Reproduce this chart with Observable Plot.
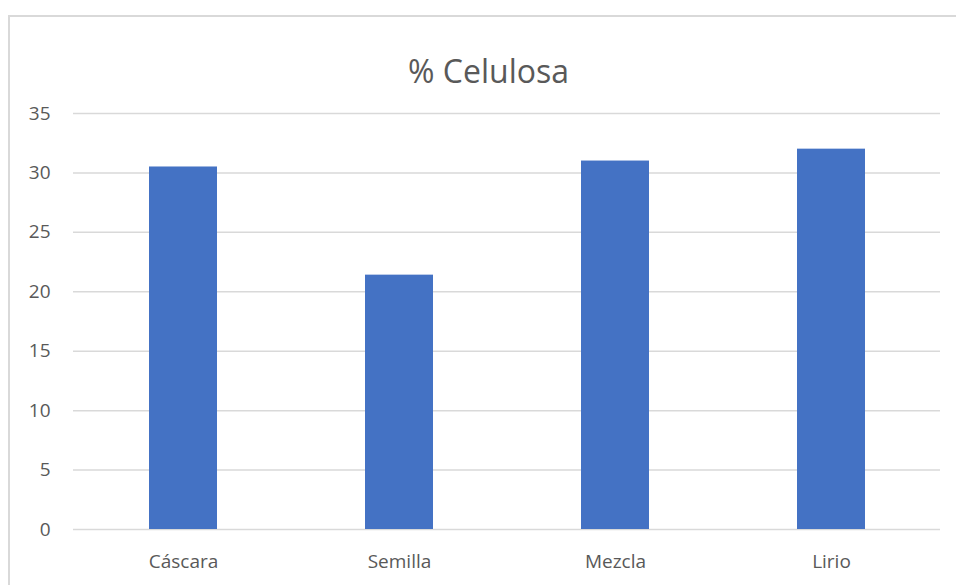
<!DOCTYPE html>
<html>
<head>
<meta charset="utf-8">
<script src="https://cdn.jsdelivr.net/npm/d3@7"></script>
<script src="https://cdn.jsdelivr.net/npm/@observablehq/plot@0.6"></script>
<style>
  html, body { margin: 0; padding: 0; background: #fff; }
  #wrap { position: relative; width: 956px; height: 585px; overflow: hidden; }
  #frame {
    position: absolute; left: 8px; top: 15px; width: 1000px; height: 600px;
    border-top: 2px solid #d9d9d9; border-left: 2px solid #d9d9d9; box-sizing: border-box;
  }
  #wrap svg { position: absolute; left: 0; top: 0; }
</style>
</head>
<body>
<div id="wrap"><div id="frame"></div></div>
<script>
// % cellulose content per sample
const categories = ["Cáscara", "Semilla", "Mezcla", "Lirio"];
const values = [30.5, 21.4, 31.0, 32.0];
const yTicks = [0, 5, 10, 15, 20, 25, 30, 35];
const title = "% Celulosa";

const data = categories.map((c, i) => ({category: c, value: values[i]}));

const font = "'Open Sans', 'DejaVu Sans', sans-serif";
const textColor = "#595959";

const chart = Plot.plot({
  width: 956,
  height: 585,
  marginLeft: 73,
  marginRight: 16,
  marginTop: 113,
  marginBottom: 56,
  style: {fontFamily: font, fontSize: "19px", color: textColor, background: "transparent", overflow: "visible"},
  x: {domain: categories, paddingInner: 0.686, paddingOuter: 0.343, label: null},
  y: {domain: [0, 35], label: null},
  marks: [
    Plot.gridY(yTicks, {stroke: "#d9d9d9", strokeOpacity: 1, strokeWidth: 1.5}),
    Plot.barY(data, {x: "category", y: "value", fill: "#4472c4"}),
    Plot.axisX({tickSize: 0, tickPadding: 25, fontSize: 19, fill: textColor, label: null}),
    Plot.axisY({ticks: yTicks, tickSize: 0, tickPadding: 23, fontSize: 19, fill: textColor, label: null}),
    Plot.text([title], {
      frameAnchor: "top", dx: -18.5, dy: -53,
      text: d => d, fontSize: 32, fill: textColor, fontFamily: font
    })
  ]
});

document.getElementById("wrap").appendChild(chart);
</script>
</body>
</html>
